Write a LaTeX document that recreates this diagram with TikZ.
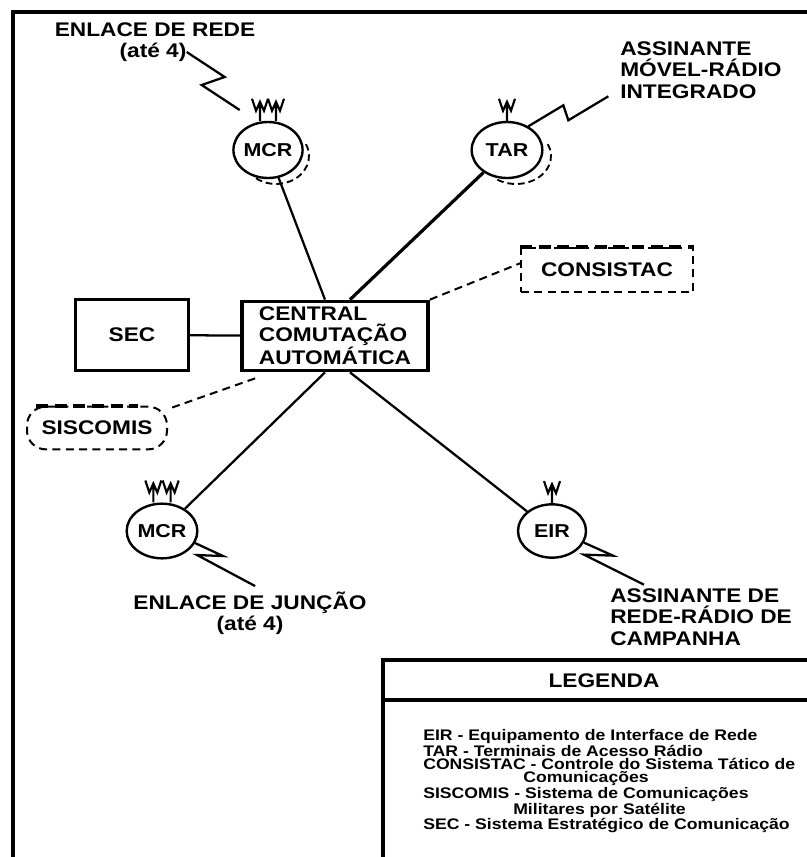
\documentclass[tikz,border=0pt]{standalone}
\usepackage{fontspec}
\setmainfont{Liberation Sans}[FakeStretch=1.15]
\usepackage{tikz}
\usetikzlibrary{shapes.geometric}

\tikzset{
	rotulo/.style={font=\fontsize{14.8}{16.2}\selectfont\bfseries, inner sep=0pt, align=center},
	estacao/.style={ellipse, draw, line width=1.8pt, minimum width=51pt, minimum height=42pt, inner sep=0pt, font=\fontsize{14}{15}\selectfont\bfseries},
	caixa/.style={draw, line width=2pt, inner sep=0pt, align=left, font=\fontsize{14.8}{15.8}\selectfont\bfseries},
	tracejado/.style={dash pattern=on 6pt off 4pt, line width=1.5pt},
	enlace/.style={line width=1.7pt},
}
% antena sobre uma estacao
\newcommand{\antena}[1]{\draw[line width=1.6pt] #1 -- ++(0,-19) ++(-8,-3) -- ++(4,12) -- ++(4,-9) -- ++(4,9) -- ++(4,-12);}

\begin{document}
\begin{tikzpicture}[x=0.75pt, y=-0.75pt]
		\useasboundingbox (0,0) rectangle (807,857);
		\clip (0,0) rectangle (807,857);
		%Moldura
		\draw [line width=3.5pt] (13,880) -- (13,12) -- (830,12);
		%Central e SEC
		\node [caixa, line width=2.8pt, minimum width=139.5pt, minimum height=51.75pt] (central) at (335,336) {CENTRAL\\COMUTAÇÃO\\AUTOMÁTICA};
		\node [caixa, align=center, minimum width=85pt, minimum height=53pt] (sec) at (132,335) {SEC};
		\draw [enlace] (sec) -- (central);
		%Estacoes
		\node [estacao] (mcrA) at (268,150) {MCR};
		\node [estacao, minimum width=53pt] (tar) at (507,150) {TAR};
		\node [estacao, minimum width=53pt, minimum height=41pt] (mcrB) at (162,531) {MCR};
		\node [estacao, minimum height=40pt] (eir) at (552,531) {EIR};
		\draw [dash pattern=on 5pt off 3pt, line width=1.4pt] ([shift={(8,6)}]mcrA.center) ++(-25:33 and 28) arc [start angle=-25, end angle=130, x radius=33, y radius=28];
		\draw [dash pattern=on 5pt off 3pt, line width=1.4pt] ([shift={(9,6)}]tar.center) ++(-25:35 and 28) arc [start angle=-25, end angle=125, x radius=35, y radius=28];
		\antena{([xshift=-6pt]mcrA.north)}
		\antena{([xshift=6pt]mcrA.north)}
		\antena{(tar.north)}
		\antena{([xshift=-6.5pt]mcrB.north)}
		\antena{([xshift=6.5pt]mcrB.north)}
		\antena{(eir.north)}
		%Ligacoes com a central
		\draw [enlace] (mcrA) -- ([xshift=-7.5pt]central.north);
		\draw [line width=2.4pt] (tar) -- ([xshift=11.25pt]central.north);
		\draw [enlace] (mcrB) -- ([xshift=-7.5pt]central.south);
		\draw [enlace] (eir) -- ([xshift=11.25pt]central.south);
		%CONSISTAC e SISCOMIS
		\node [rotulo, draw, tracejado, minimum width=129pt, minimum height=33pt] (consistac) at (607,270) {CONSISTAC};
		\draw [line width=3.2pt, dash pattern=on 9pt off 5pt] (consistac.north west) -- (consistac.north east);
		\draw [tracejado] (central.north east) -- ([yshift=5pt]consistac.west);
		\node [rotulo, draw, tracejado, rounded corners=14pt, minimum width=105pt, minimum height=32pt] (siscomis) at (97,428) {SISCOMIS};
		\draw [line width=2.8pt, dash pattern=on 9pt off 5pt] ([xshift=7.5pt]siscomis.north west) -- ([xshift=-22.5pt]siscomis.north east);
		\draw [tracejado] ([xshift=11.25pt, yshift=-4.5pt]central.south west) -- (siscomis.15);
		%Enlace de rede
		\node [rotulo] (enlaceA) at (155,30) {ENLACE DE REDE};
		\node [rotulo] (ateA) at (153,52) {(até 4)};
		\draw [enlace] (ateA.east) -- ++(38,25) -- ++(-23,8) -- ++(38,25);
		%Assinante movel
		\node [rotulo, align=left, anchor=west] (movel) at (620,70) {ASSINANTE\\MÓVEL-RÁDIO\\INTEGRADO};
		\draw [enlace] (tar.48) -- ++(35,-21) -- ++(5,15) -- ++(40,-24);
		%Enlace de juncao
		\node [rotulo] (enlaceB) at (250,603) {ENLACE DE JUNÇÃO};
		\node [rotulo] (ateB) at (250,625) {(até 4)};
		\draw [enlace] (mcrB.-20) -- ++(28,13) -- ++(-26,-1) -- ++(58,31);
		%Assinante de campanha
		\node [rotulo, align=left, anchor=west] (campanha) at (610,617) {ASSINANTE DE\\REDE-RÁDIO DE\\CAMPANHA};
		\draw [enlace] (eir.-20) -- ++(29,13) -- ++(-29,-1) -- ++(60,30);
		%Legenda
		\draw [line width=2.6pt] (383,880) -- (383,660) -- (830,660);
		\draw [line width=2.6pt] (383,700) -- (830,700);
		\node [rotulo] (legenda) at (604,681) {LEGENDA};
		\node [font=\fontsize{11.5}{10}\selectfont\bfseries, align=left, anchor=north west, inner sep=0pt] (legtxt) at (423,729) {EIR - Equipamento de Interface de Rede\\TAR - Terminais de Acesso Rádio\\CONSISTAC - Controle do Sistema Tático de\\\hspace*{75pt}Comunicações\\SISCOMIS - Sistema de Comunicações\\\hspace*{67.5pt}Militares por Satélite\\SEC - Sistema Estratégico de Comunicação};
	\end{tikzpicture}
\end{document}
